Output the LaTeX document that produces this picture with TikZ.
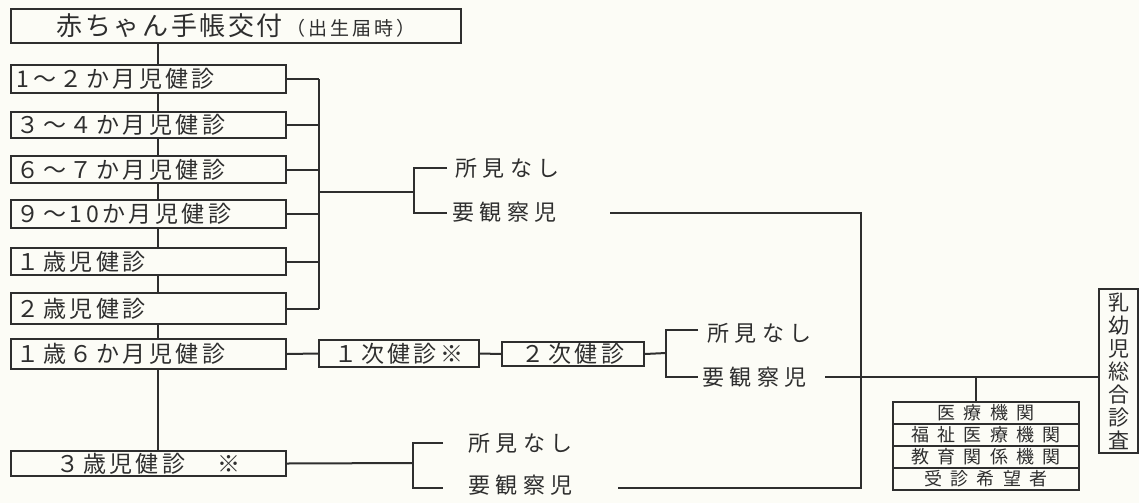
\documentclass[tikz,border=0pt]{standalone}
\usepackage{fontspec}
\newfontfamily\jp[LetterSpace=15]{Noto Sans CJK JP}
\newfontfamily\jpw[LetterSpace=25]{Noto Sans CJK JP}
\newfontfamily\jps[LetterSpace=45]{Noto Sans CJK JP}
\newfontfamily\jpt[LetterSpace=10]{Noto Sans CJK JP}
\newfontfamily\jpp[LetterSpace=15]{Noto Sans CJK JP}
\newfontfamily\jpv{Noto Sans CJK JP}
\definecolor{ink}{HTML}{2E2E2E}
\definecolor{paper}{HTML}{FCFCF6}
\begin{document}
\begin{tikzpicture}[x=0.5pt,y=-0.5pt,
  line/.style={draw=ink,line width=1pt},
  box/.style={draw=ink,line width=1pt,anchor=north west,inner xsep=3pt,inner ysep=0pt,
    align=left,text=ink,font=\jp\fontsize{11.5}{13}\selectfont},
  lbox/.style={box,text width=131.5pt},
  sbox/.style={box,minimum width=93pt,minimum height=11pt,align=center,
    font=\jps\fontsize{9}{10}\selectfont},
  lbl/.style={anchor=west,inner sep=0pt,text=ink,font=\jpw\fontsize{11}{13}\selectfont}]
\fill[paper] (0,0) rectangle (1139,503);
\useasboundingbox (0,0) rectangle (1139,503);

% left column
\node[box,text width=219pt,minimum height=17pt,align=center] (b0) at (10,8)
  {{\jpt\fontsize{13}{15}\selectfont 赤ちゃん手帳交付}\hspace{2pt}{\jpp\fontsize{9.5}{11}\selectfont （出生届時）}};
\node[lbox,minimum height=14pt] (b1) at (10,64) {1〜２か月児健診};
\node[lbox,minimum height=13pt] (b2) at (10,111) {３〜４か月児健診};
\node[lbox,minimum height=13.5pt] (b3) at (10,155) {６〜７か月児健診};
\node[lbox,minimum height=14pt] (b4) at (10,199) {９〜10か月児健診};
\node[lbox,minimum height=13.5pt] (b5) at (10,247) {１歳児健診};
\node[lbox,minimum height=15.5pt] (b6) at (10,292) {２歳児健診};
\node[lbox,minimum height=15pt] (b7) at (10,338) {１歳６か月児健診};
\node[lbox,minimum height=12.5pt,align=center] (b8) at (10,450) {３歳児健診\hspace{16pt}※};

% 1st / 2nd exams
\node[box,text width=74pt,minimum height=13.5pt,align=center] (p1) at (318,339) {１次健診※};
\node[box,text width=65pt,minimum height=12pt,align=center] (p2) at (501,341) {２次健診};

% labels
\node[lbl] (s1) at (455,168) {所見なし};
\node[lbl] (r1) at (452,212) {要観察児};
\node[lbl] (s2) at (707,333) {所見なし};
\node[lbl] (r2) at (702,377) {要観察児};
\node[lbl] (s3) at (468,443) {所見なし};
\node[lbl] (r3) at (468,485) {要観察児};

% right side
\node[box,anchor=north west,minimum width=19.5pt,minimum height=82pt,inner xsep=0pt,align=center,
  font=\jpv\fontsize{10.5}{11.5}\selectfont] (z) at (1098,288)
  {乳\\幼\\児\\総\\合\\診\\査};
\node[sbox] (m1) at (892,401) {医療機関};
\node[sbox] (m2) at (892,423) {福祉医療機関};
\node[sbox] (m3) at (892,445) {教育関係機関};
\node[sbox] (m4) at (892,467) {受診希望者};

% coordinates
\coordinate (sp) at (158,0);
\coordinate (bus) at (319,0);
\coordinate (j1) at (319,192);
\coordinate (k1) at (414,192);
\coordinate (a1) at (447,168);
\coordinate (a1b) at (447,213);
\coordinate (o1) at (610,213);
\coordinate (k2) at (666,353);
\coordinate (a2) at (698,330);
\coordinate (a2b) at (698,377);
\coordinate (o2) at (825,377);
\coordinate (k3) at (413,463);
\coordinate (a3) at (443,443);
\coordinate (a3b) at (443,488);
\coordinate (o3) at (618,488);
\coordinate (v) at (861,488);
\coordinate (d) at (976,377);

% spine
\foreach \u/\w in {b0/b1,b1/b2,b2/b3,b3/b4,b4/b5,b5/b6,b6/b7,b7/b8}
  \draw[line] (\u.south -| sp) -- (\w.north -| sp);
% bus
\foreach \u in {b1,b2,b3,b4,b5,b6}
  \draw[line] (\u.east) -- (\u.east -| bus);
\draw[line] (b1.east -| bus) -- (b6.east -| bus);
\draw[line] (j1) -- (k1);
\draw[line] (a1) -| (k1) |- (a1b);
% 1.5 year route
\draw[line] (b7.east) -- (p1.west);
\draw[line] (p1.east) -- (p2.west);
\draw[line] (p2.east) -- (k2);
\draw[line] (a2) -| (k2) |- (a2b);
% 3 year route
\draw[line] (b8.east) -- (k3);
\draw[line] (a3) -| (k3) |- (a3b);
% collecting lines
\draw[line] (o1) -| (v) -- (o3);
\draw[line] (o2) -- (o2 -| z.west);
\draw[line] (d) -- (d |- m1.north);
\end{tikzpicture}
\end{document}
